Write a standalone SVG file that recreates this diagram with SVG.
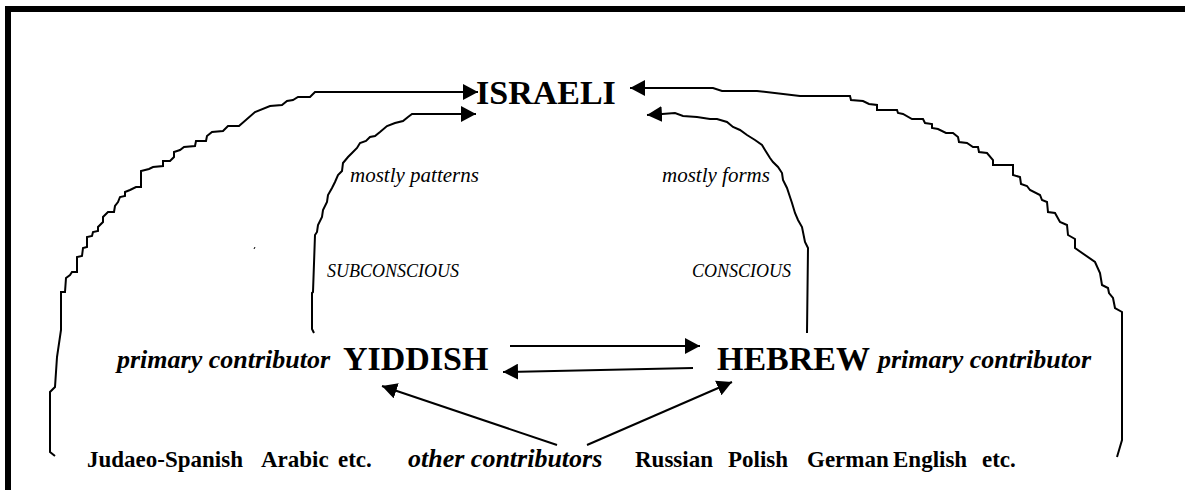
<svg xmlns="http://www.w3.org/2000/svg" width="1185" height="490" viewBox="0 0 1185 490">
<style>
.ln{fill:none;stroke:#000;stroke-width:2;stroke-linejoin:miter}
.big{font-family:"Liberation Serif","Times New Roman",serif;font-weight:bold;font-size:34px}
.bi{font-family:"Liberation Serif","Times New Roman",serif;font-weight:bold;font-style:italic;font-size:26px}
.b{font-family:"Liberation Serif","Times New Roman",serif;font-weight:bold;font-size:23px}
.it{font-family:"Liberation Serif","Times New Roman",serif;font-style:italic;font-size:21px}
.cap{font-family:"Liberation Serif","Times New Roman",serif;font-style:italic;font-size:18px}
</style>
<defs>
<marker id="ah" markerUnits="userSpaceOnUse" markerWidth="16" markerHeight="16" refX="15" refY="8" orient="auto">
<path d="M0,0 L15,8 L0,16 Z" fill="#000"/>
</marker>
</defs>
<rect width="1185" height="490" fill="#fff"/>
<g id="frame">
<line x1="5" y1="9" x2="1185" y2="9" stroke="#000" stroke-width="6"/>
<line x1="8" y1="6" x2="8" y2="490" stroke="#000" stroke-width="6"/>
</g>
<g id="connectors">
<path class="ln" marker-end="url(#ah)" d="M55,456 L50,452 L50,392 L55,387 L57,357 L61,330 L61,292 L65,292 L66,278 L70,275 L72,272 L77,272 L77,257 L82,256 L83,248 L87,247 L87,237 L92,236 L93,232 L98,231 L98,227 L103,222 L103,217 L108,212 L114,212 L115,206 L118,202 L120,197 L125,196 L125,192 L130,190 L136,187 L141,187 L141,171 L149,169 L153,167 L163,166 L163,161 L170,161 L174,157 L174,152 L180,150 L184,147 L195,146 L196,141 L206,141 L207,136 L212,132 L223,131 L228,126 L239,126 L255,112 L270,106 L282,105 L287,101 L293,100 L298,97 L310,97 L315,92 L478,92"/>
<path class="ln" marker-end="url(#ah)" d="M314,333 L312,329 L312,293 L313,292 L315,235 L317,232 L318,225 L322,217 L323,210 L327,202 L328,195 L332,188 L335,182 L338,175 L342,171 L343,163 L348,157 L352,153 L357,148 L360,143 L366,141 L370,137 L375,136 L380,132 L387,126 L395,123 L403,121 L408,117 L412,114 L476,114"/>
<path class="ln" marker-end="url(#ah)" d="M807,333 L808,248 L805,242 L802,227 L798,220 L795,213 L792,203 L790,197 L787,188 L783,180 L782,173 L778,167 L773,162 L770,158 L765,150 L762,145 L755,140 L747,135 L740,130 L733,127 L727,122 L717,119 L710,119 L697,117 L683,116 L675,113 L662,114 L647,115"/>
<path class="ln" marker-end="url(#ah)" d="M1117,457 L1122,440 L1122,312 L1115,308 L1113,298 L1109,293 L1108,288 L1102,285 L1100,273 L1095,262 L1075,248 L1075,239 L1068,235 L1067,225 L1060,222 L1055,213 L1048,212 L1047,202 L1042,200 L1040,195 L1030,190 L1027,186 L1021,184 L1020,177 L1013,175 L1013,165 L993,165 L993,160 L987,153 L979,152 L978,147 L973,147 L967,143 L959,142 L958,137 L953,133 L946,133 L938,129 L932,128 L932,124 L925,123 L923,119 L912,119 L903,114 L898,113 L897,110 L877,110 L877,105 L869,104 L863,101 L851,100 L850,96 L800,96 L757,91 L722,91 L713,88 L645,88 L630,88"/>
<path class="ln" marker-end="url(#ah)" d="M510,346 L700,346"/>
<path class="ln" marker-end="url(#ah)" d="M693,368 L503,372"/>
<path class="ln" marker-end="url(#ah)" d="M557,445 L382,386"/>
<path class="ln" marker-end="url(#ah)" d="M587,445 L732,382"/>
<path d="M255,247 L254,249" stroke="#000" stroke-width="1" fill="none"/>
</g>
<g id="israeli"><text class="big" x="476" y="104">ISRAELI</text></g>
<g id="yiddish">
<text class="bi" x="117" y="368">primary contributor</text>
<text class="big" x="343" y="370">YIDDISH</text>
</g>
<g id="hebrew">
<text class="big" x="717" y="370">HEBREW</text>
<text class="bi" x="878" y="368">primary contributor</text>
</g>
<g id="labels">
<text class="it" x="350" y="182">mostly patterns</text>
<text class="it" x="662" y="182">mostly forms</text>
<text class="cap" x="327" y="277">SUBCONSCIOUS</text>
<text class="cap" x="692" y="277">CONSCIOUS</text>
</g>
<g id="others">
<text class="b" x="87" y="467">Judaeo-Spanish</text>
<text class="b" x="261" y="467">Arabic</text>
<text class="b" x="338" y="467">etc.</text>
<text class="bi" x="408" y="467">other contributors</text>
<text class="b" x="635" y="467">Russian</text>
<text class="b" x="728" y="467">Polish</text>
<text class="b" x="807" y="467">German</text>
<text class="b" x="893" y="467">English</text>
<text class="b" x="982" y="467">etc.</text>
</g>
</svg>
